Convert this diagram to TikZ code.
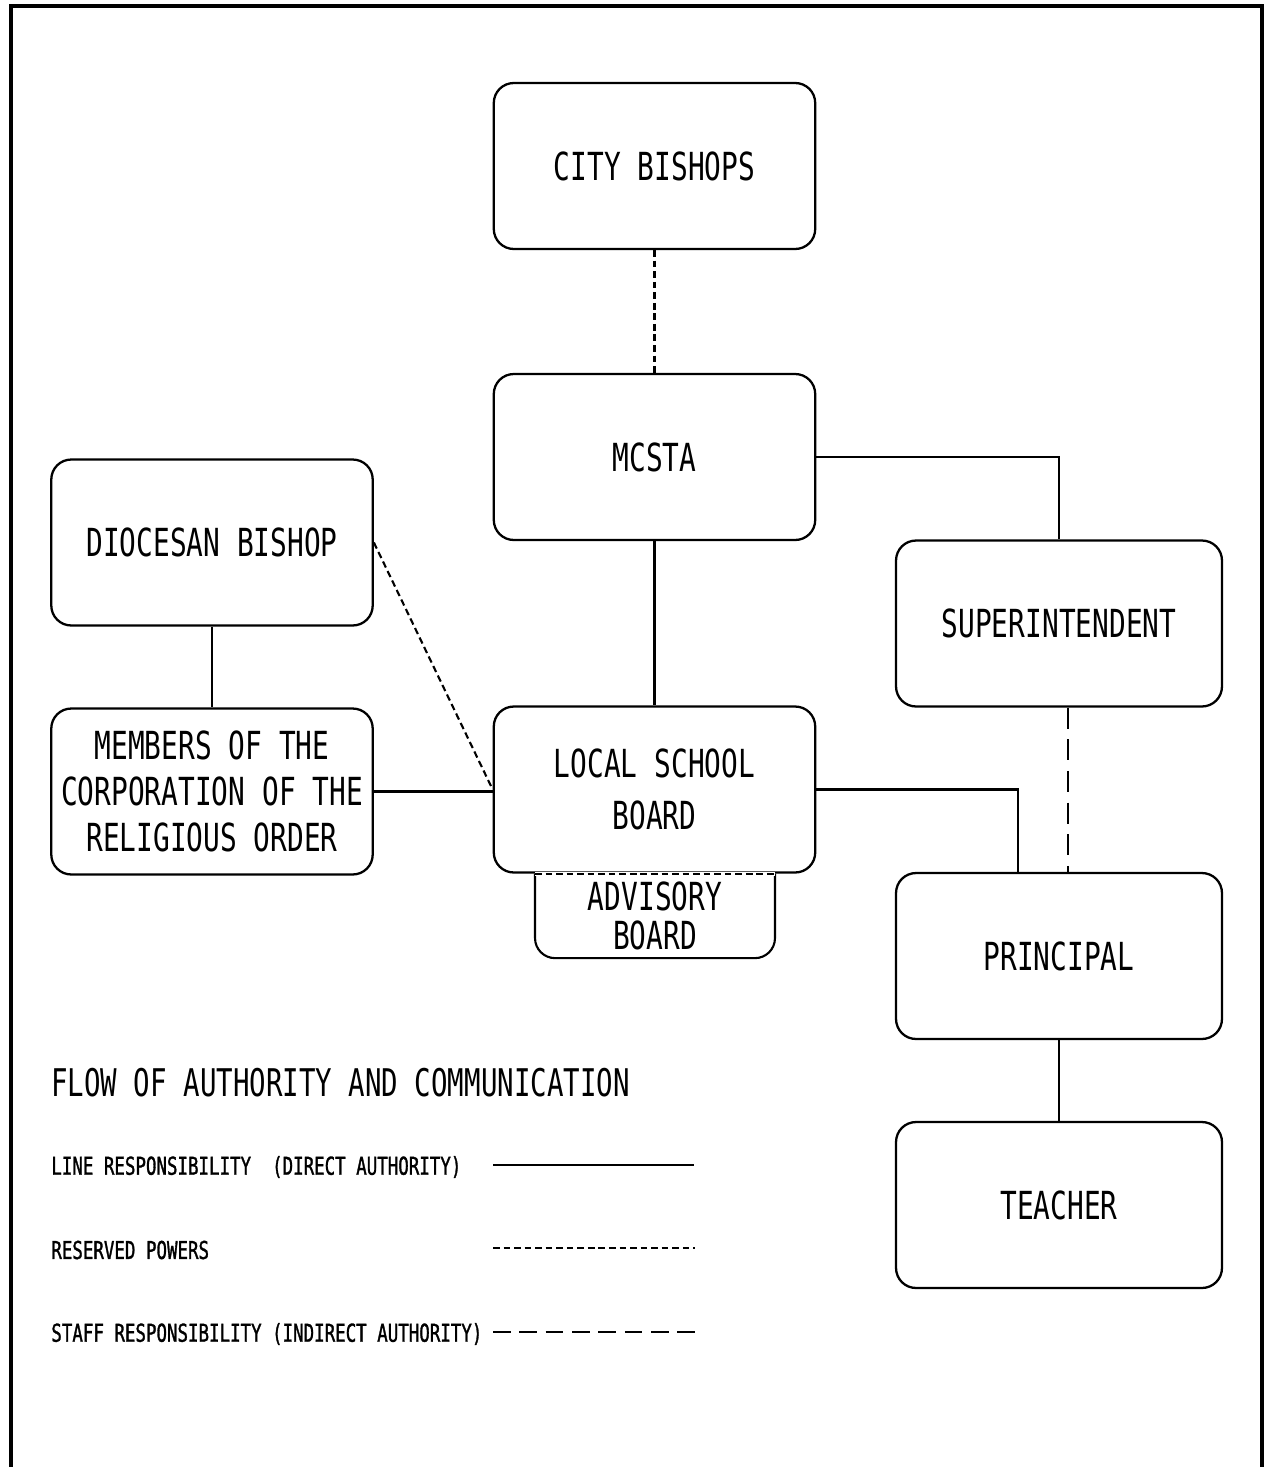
\documentclass[tikz,border=0pt]{standalone}
\usepackage{fontspec}
\usepackage{tikz}
\usetikzlibrary{positioning, calc}
\newfontfamily\plotfont[FakeStretch=0.72]{DejaVu Sans Mono}
\newfontfamily\plotkeyfont[FakeStretch=0.71, FakeBold=1.2]{DejaVu Sans Mono}

\begin{document}
\begin{tikzpicture}[
    x=0.02cm, y=-0.02cm,
    orgbox/.style={draw, line width=1.3pt, rounded corners=0.4cm,
                   minimum width=6.43cm, minimum height=3.32cm,
                   align=center, font=\plotfont\fontsize{22}{26}\selectfont},
    widebox/.style={orgbox, minimum width=6.52cm},
    link/.style={line width=1.2pt},
    reserved/.style={line width=1.2pt, dash pattern=on 3.8pt off 2.2pt},
    staff/.style={line width=1.2pt, dash pattern=on 12pt off 6pt},
    keytext/.style={anchor=west, inner sep=0pt, font=\plotkeyfont\fontsize{14}{16}\selectfont}
]
\useasboundingbox (0,0) rectangle (1265,1467);
% page frame, open at the bottom
\draw[line width=2pt] (11,1467) -- (11,6) -- (1262,6) -- (1262,1467);
% ============== boxes ==================
\node[orgbox]  (city)  at (654.5,166)  {CITY BISHOPS};
\node[orgbox]  (mcsta) at (654.5,457)  {MCSTA};
\node[orgbox]  (dioc)  at (212,542.5)  {DIOCESAN BISHOP};
\node[orgbox]  (memb)  at (212,791.5)  {MEMBERS OF THE\\CORPORATION OF THE\\RELIGIOUS ORDER};
\node[orgbox]  (lsb)   at (654.5,789.5) {LOCAL SCHOOL\\[4pt]BOARD};
\node[widebox] (sup)   at (1059,623.5) {SUPERINTENDENT};
\node[widebox] (prin)  at (1059,956)   {PRINCIPAL};
\node[widebox] (teach) at (1059,1205)  {TEACHER};
% advisory board hangs under the local school board
\node[align=center, font=\plotfont\fontsize{22}{22}\selectfont] (adv) at (655,916) {ADVISORY\\BOARD};
\draw[link, rounded corners=0.4cm] ([xshift=-2.39cm]lsb.south) -- ++(0,84.5) -| ([xshift=2.41cm]lsb.south);
\draw[white, line width=2.2pt] ([xshift=-2.39cm]lsb.south) -- ([xshift=2.41cm]lsb.south);
\draw[reserved] ([xshift=-2.39cm]lsb.south) -- ([xshift=2.41cm]lsb.south);
% ============== connectors ==================
\draw[reserved] (city) -- (mcsta);
\draw[link] (mcsta) -- (lsb);
\draw[link] (mcsta.east) -| (sup.north);
\draw[link] (dioc) -- (memb);
\draw[reserved] (dioc.east) -- (lsb.west);
\draw[link] (memb.east) -- (memb.east -| lsb.west);
\draw[link] (lsb.east) -| ([xshift=-0.82cm]prin.north);
\draw[staff] ([xshift=0.18cm]sup.south) -- ([xshift=0.18cm]prin.north);
\draw[link] (prin) -- (teach);
% ============== key ==================
\node[anchor=west, inner sep=0pt, font=\plotfont\fontsize{21.7}{24}\selectfont] (keytitle) at (51,1083) {FLOW OF AUTHORITY AND COMMUNICATION};
\node[keytext] (keyline)  at (51,1167) {LINE RESPONSIBILITY\ \ (DIRECT AUTHORITY)};
\node[keytext] (keyres)   at (51,1250) {RESERVED POWERS};
\node[keytext] (keystaff) at (51,1334) {STAFF RESPONSIBILITY (INDIRECT AUTHORITY)};
\coordinate (k1a) at (493,1165); \coordinate (k1b) at (694,1165);
\coordinate (k2a) at (493,1248); \coordinate (k2b) at (695,1248);
\coordinate (k3a) at (493,1332); \coordinate (k3b) at (695,1332);
\draw[link] (k1a) -- (k1b);
\draw[reserved] (k2a) -- (k2b);
\draw[staff, dash pattern=on 10pt off 5pt] (k3a) -- (k3b);
\end{tikzpicture}
\end{document}
